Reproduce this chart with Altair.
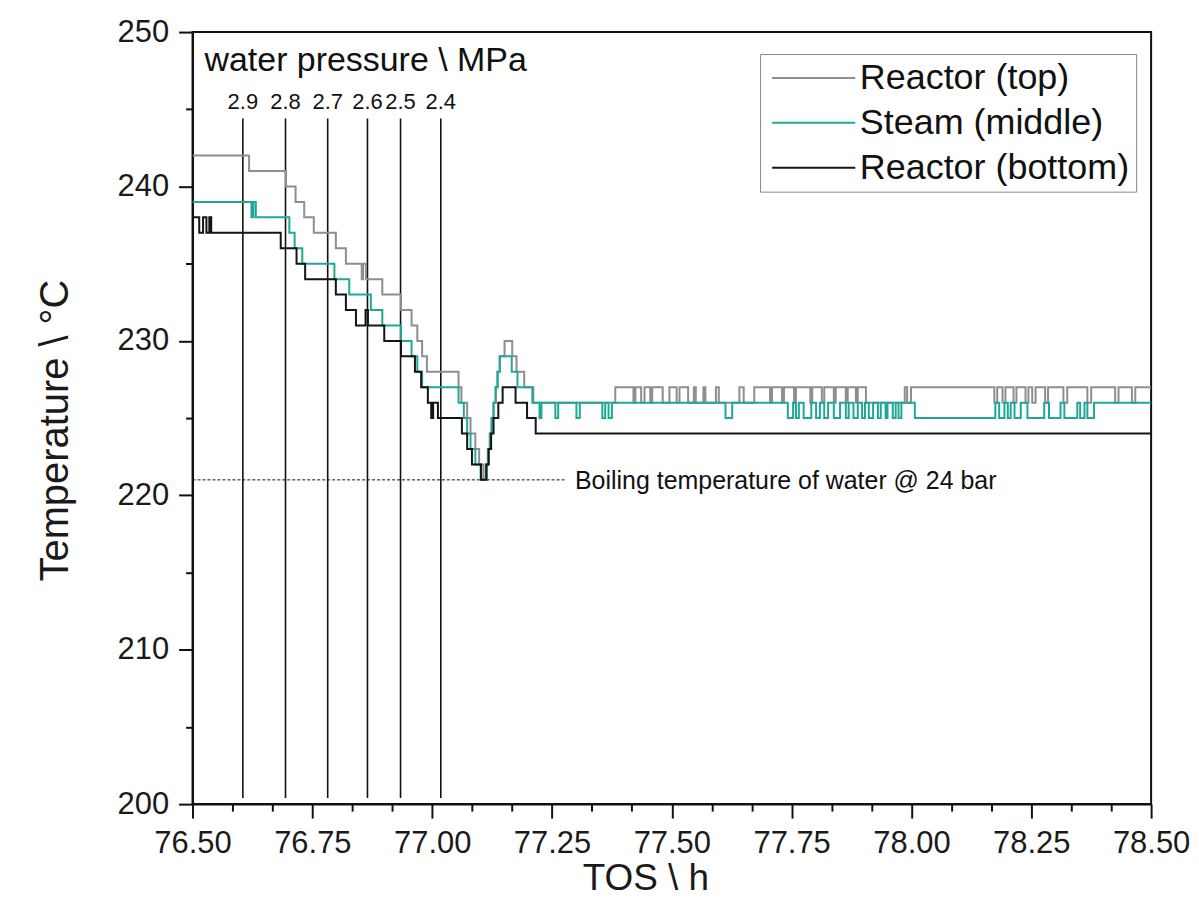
import altair as alt
import pandas as pd

FONT = "Liberation Sans"

# ---------------- data ----------------
series_names = ["Reactor (top)", "Steam (middle)", "Reactor (bottom)"]
series_colors = ["#8e8e8e", "#1fa898", "#141414"]

# change points (TOS in h, temperature in °C); each value holds until the next point
top_pts = [
    (76.500, 242), (76.618, 241), (76.695, 240), (76.715, 239), (76.733, 238), (76.753, 237),
    (76.799, 236), (76.820, 235), (76.853, 234), (76.856, 235), (76.862, 234), (76.896, 233),
    (76.935, 232), (76.957, 231), (76.969, 230), (76.979, 229), (76.989, 228), (77.055, 227),
    (77.061, 226), (77.073, 225), (77.080, 224), (77.090, 223), (77.098, 222), (77.107, 221),
    (77.112, 222), (77.116, 223), (77.120, 224), (77.124, 225), (77.128, 226), (77.133, 227),
    (77.137, 228), (77.141, 229), (77.151, 230), (77.167, 229), (77.176, 228), (77.192, 227),
    (77.211, 226),
    (77.382, 227), (77.420, 226), (77.424, 227), (77.436, 226), (77.443, 227), (77.455, 226),
    (77.459, 227), (77.481, 226), (77.495, 227), (77.510, 226), (77.516, 227), (77.534, 226),
    (77.546, 227), (77.550, 226), (77.566, 227), (77.570, 226), (77.592, 227), (77.598, 226),
    (77.641, 227), (77.650, 226), (77.672, 227), (77.705, 226), (77.709, 227), (77.730, 226),
    (77.734, 227), (77.755, 226), (77.759, 227), (77.789, 226), (77.793, 227), (77.813, 226),
    (77.818, 227), (77.838, 226), (77.842, 227), (77.863, 226), (77.867, 227), (77.884, 226),
    (77.888, 227), (77.905, 226),
    (77.986, 227), (77.991, 226), (77.999, 227),
    (78.173, 226), (78.179, 227), (78.190, 226), (78.196, 227), (78.213, 226), (78.219, 227),
    (78.238, 226), (78.244, 227), (78.252, 226), (78.259, 227), (78.279, 226), (78.285, 227),
    (78.317, 226), (78.325, 227), (78.367, 226), (78.375, 227), (78.425, 226), (78.432, 227),
    (78.460, 226), (78.467, 227), (78.500, 227),
]

mid_pts = [
    (76.500, 239), (76.623, 238), (76.627, 239), (76.632, 238), (76.702, 237), (76.713, 236),
    (76.729, 235), (76.796, 234), (76.827, 233), (76.872, 232), (76.896, 231), (76.935, 230),
    (76.957, 229), (76.969, 228), (76.979, 227), (77.055, 226), (77.066, 225), (77.073, 224),
    (77.080, 223), (77.090, 222), (77.101, 221), (77.114, 222), (77.117, 223), (77.121, 224),
    (77.124, 225), (77.128, 226), (77.132, 227), (77.136, 228), (77.141, 229), (77.166, 228),
    (77.178, 227), (77.209, 226),
    (77.224, 225), (77.228, 226), (77.257, 225), (77.263, 226), (77.301, 225), (77.308, 226),
    (77.355, 225), (77.361, 226), (77.368, 225), (77.375, 226), (77.612, 225), (77.626, 226),
    (77.742, 225), (77.753, 226), (77.759, 225), (77.765, 226), (77.775, 225), (77.791, 226),
    (77.801, 225), (77.809, 226), (77.818, 225), (77.826, 226), (77.838, 225), (77.851, 226),
    (77.863, 225), (77.869, 226), (77.879, 225), (77.888, 226), (77.897, 225), (77.903, 226),
    (77.911, 225), (77.920, 226), (77.930, 225), (77.936, 226), (77.946, 225), (77.950, 226),
    (77.961, 225), (77.967, 226), (77.973, 225), (77.979, 226),
    (78.007, 225),
    (78.175, 226), (78.183, 225), (78.194, 226), (78.201, 225), (78.207, 226), (78.215, 225),
    (78.228, 226), (78.242, 225), (78.277, 226), (78.287, 225), (78.311, 226), (78.319, 225),
    (78.346, 226), (78.352, 225), (78.361, 226), (78.367, 225), (78.381, 226), (78.500, 226),
]

bot_pts = [
    (76.500, 238), (76.514, 237), (76.522, 238), (76.529, 237), (76.535, 238), (76.539, 237),
    (76.684, 236), (76.717, 235), (76.735, 234), (76.799, 233), (76.820, 232), (76.841, 231),
    (76.861, 232), (76.866, 231), (76.900, 230), (76.935, 229), (76.964, 228), (76.977, 227),
    (76.991, 226), (76.998, 225), (77.002, 226), (77.012, 225), (77.062, 224), (77.073, 223),
    (77.083, 222), (77.102, 221), (77.113, 222), (77.118, 223), (77.123, 224), (77.128, 225),
    (77.138, 226), (77.147, 227), (77.174, 226), (77.198, 225), (77.216, 224), (78.500, 224),
]

# water pressure markers
pressure_t = [76.605, 76.694, 76.782, 76.865, 76.934, 77.018]
pressure_labels = ["2.9", "2.8", "2.7", "2.6", "2.5", "2.4"]
pressure_line_top = 244.4
pressure_line_bottom = 200.4
pressure_label_y = 245.5
pressure_title = "water pressure \\ MPa"
pressure_title_pos = (76.525, 248.1)

# boiling temperature line
boil_t = [76.5, 77.280]
boil_v = 221.0
boil_text = "Boiling temperature of water @ 24 bar"
boil_text_t = 77.298

x_ticks = [round(76.5 + k / 12, 6) for k in range(25)]
y_ticks = list(range(200, 251, 5))

# ---------------- tables ----------------
rows = []
for name, pts in zip(series_names, [top_pts, mid_pts, bot_pts]):
    for t, v in pts:
        rows.append({"series": name, "t": t, "v": v})
df_lines = pd.DataFrame(rows)

df_p = pd.DataFrame({"t": pressure_t, "label": pressure_labels,
                     "v": [pressure_line_top] * len(pressure_t),
                     "v2": [pressure_line_bottom] * len(pressure_t),
                     "lv": [pressure_label_y] * len(pressure_t)})
df_ptitle = pd.DataFrame({"t": [pressure_title_pos[0]], "v": [pressure_title_pos[1]],
                          "label": [pressure_title]})
df_boil = pd.DataFrame({"t": [boil_t[0]], "t2": [boil_t[1]], "v": [boil_v]})
df_boil_text = pd.DataFrame({"t": [boil_text_t], "v": [boil_v], "label": [boil_text]})

# ---------------- scales / axes ----------------
x_scale = alt.Scale(domain=[76.5, 78.5], nice=False, zero=False)
y_scale = alt.Scale(domain=[200, 250], nice=False, zero=False)

x_major = "abs(datum.value*4 - round(datum.value*4)) < 0.01"
y_major = "datum.value % 10 === 0"

x_axis = alt.Axis(
    values=x_ticks, title="TOS \\ h",
    labelExpr=f"{x_major} ? format(datum.value, '.2f') : ''",
    tickSize={"condition": {"test": x_major, "value": 14}, "value": 7},
    labelOverlap=False, labelFlush=False, grid=False,
    labelPadding=11, titlePadding=2, titleX=454, titleAlign="center",
    labelFontSize=31, titleFontSize=37,
)
y_axis = alt.Axis(
    values=y_ticks, title="Temperature \\ °C",
    labelExpr=f"{y_major} ? format(datum.value, 'd') : ''",
    tickSize={"condition": {"test": y_major, "value": 14}, "value": 7},
    labelOverlap=False, labelFlush=False, grid=False,
    labelPadding=10, titlePadding=42, titleY=399, titleAlign="center",
    labelFontSize=31, titleFontSize=40,
)

X = alt.X("t:Q", scale=x_scale, axis=x_axis)
Y = alt.Y("v:Q", scale=y_scale, axis=y_axis)

lines = alt.Chart(df_lines).mark_line(interpolate="step-after", strokeWidth=2, clip=True).encode(
    x=X, y=Y,
    color=alt.Color("series:N",
                    scale=alt.Scale(domain=series_names, range=series_colors),
                    legend=alt.Legend(orient="none", legendX=569, legendY=22, title=None,
                                      symbolType="M-1.4,0H8.4", symbolSize=289,
                                      symbolStrokeWidth=2, labelFontSize=36,
                                      labelFont=FONT, labelColor="#111",
                                      strokeColor="#888", fillColor="white",
                                      padding=6, rowPadding=9, labelOffset=58,
                                      labelLimit=0)),
    order=alt.Order("t:Q"),
)

p_rules = alt.Chart(df_p).mark_rule(color="#111", strokeWidth=1.6).encode(
    x=X, y=Y, y2="v2:Q")

p_labels = alt.Chart(df_p).mark_text(fontSize=22, font=FONT, color="#111",
                                      align="center", baseline="middle").encode(
    x=X, y=alt.Y("lv:Q", scale=y_scale, axis=y_axis), text="label:N")

p_title = alt.Chart(df_ptitle).mark_text(fontSize=34, font=FONT, color="#111",
                                          align="left", baseline="middle").encode(
    x=X, y=Y, text="label:N")

boil_rule = alt.Chart(df_boil).mark_rule(color="#111", strokeWidth=1,
                                          strokeDash=[3, 2]).encode(
    x=X, x2="t2:Q", y=Y)

boil_label = alt.Chart(df_boil_text).mark_text(fontSize=25, font=FONT, color="#111",
                                                align="left", baseline="middle", dy=1).encode(
    x=X, y=Y, text="label:N")

chart = alt.layer(boil_rule, p_rules, lines, p_labels, p_title, boil_label).properties(
    width=961, height=774,
    padding={"left": 185, "top": 23, "right": 40, "bottom": 100},
    autosize=alt.AutoSizeParams(type="none"),
).configure_view(
    stroke="#111", strokeWidth=2
).configure_axis(
    domainColor="#111", domainWidth=2, tickColor="#111", tickWidth=2,
    labelFont=FONT, labelColor="#1a1a1a",
    titleFont=FONT, titleFontWeight="normal", titleColor="#1a1a1a",
)

chart.save("out.html", embed_options={"renderer": "svg", "actions": False})
